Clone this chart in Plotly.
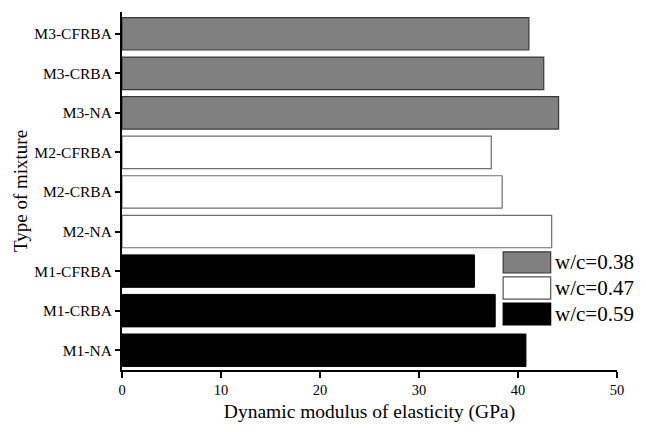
import plotly.graph_objects as go

categories = ["M1-NA", "M1-CRBA", "M1-CFRBA",
              "M2-NA", "M2-CRBA", "M2-CFRBA",
              "M3-NA", "M3-CRBA", "M3-CFRBA"]
m1_labels = ["M1-NA", "M1-CRBA", "M1-CFRBA"]
m1_values = [40.8, 37.7, 35.6]
m2_labels = ["M2-NA", "M2-CRBA", "M2-CFRBA"]
m2_values = [43.4, 38.4, 37.3]
m3_labels = ["M3-NA", "M3-CRBA", "M3-CFRBA"]
m3_values = [44.1, 42.6, 41.1]
series_names = ["w/c=0.38", "w/c=0.47", "w/c=0.59"]
x_ticks = [0, 10, 20, 30, 40, 50]

FONT = "Liberation Serif, Times New Roman, serif"

fig = go.Figure()
fig.add_trace(go.Bar(y=m1_labels, x=m1_values, orientation="h", name=series_names[2],
                     marker=dict(color="#000000", line=dict(color="#000000", width=1)),
                     width=0.82, showlegend=False))
fig.add_trace(go.Bar(y=m2_labels, x=m2_values, orientation="h", name=series_names[1],
                     marker=dict(color="#ffffff", line=dict(color="#6e6e6e", width=1.2)),
                     width=0.82, showlegend=False))
fig.add_trace(go.Bar(y=m3_labels, x=m3_values, orientation="h", name=series_names[0],
                     marker=dict(color="#808080", line=dict(color="#3a3a3a", width=1.2)),
                     width=0.82, showlegend=False))

# custom legend (large swatches)
legend_fill = ["#808080", "#ffffff", "#000000"]
legend_line = ["#3a3a3a", "#555555", "#000000"]
box_y = [(0.271, 0.330), (0.198, 0.260), (0.126, 0.187)]
for name, fc, lc, (y0, y1) in zip(series_names, legend_fill, legend_line, box_y):
    fig.add_shape(type="rect", xref="paper", yref="paper", x0=0.770, x1=0.866, y0=y0, y1=y1,
                  fillcolor=fc, line=dict(color=lc, width=1.2), layer="above")
    fig.add_annotation(xref="paper", yref="paper", x=0.871, y=(y0 + y1) / 2, text=name,
                       showarrow=False, xanchor="left", yanchor="middle",
                       font=dict(family=FONT, size=21, color="#000000"))

fig.update_layout(
    width=646, height=432,
    margin=dict(l=122, r=29, t=12, b=62),
    paper_bgcolor="white", plot_bgcolor="white",
    barmode="overlay",
    font=dict(family=FONT, size=13, color="#000000"),
    xaxis=dict(range=[0, 50], tickvals=x_ticks, showgrid=False, zeroline=False,
               showline=True, linecolor="#000000", linewidth=2,
               ticks="outside", ticklen=6, tickwidth=2, tickcolor="#000000",
               title=dict(text="Dynamic modulus of elasticity (GPa)",
                          font=dict(family=FONT, size=19.5), standoff=7),
               tickfont=dict(family=FONT, size=14.5)),
    yaxis=dict(type="category", categoryorder="array", categoryarray=categories,
               range=[-0.5, 8.55], showgrid=False, zeroline=False,
               showline=True, linecolor="#000000", linewidth=2,
               ticks="outside", ticklen=5, tickwidth=2, tickcolor="#000000",
               title=dict(text="Type of mixture", font=dict(family=FONT, size=19), standoff=2),
               tickfont=dict(family=FONT, size=15.5)),
)

fig.write_html("out.html")
